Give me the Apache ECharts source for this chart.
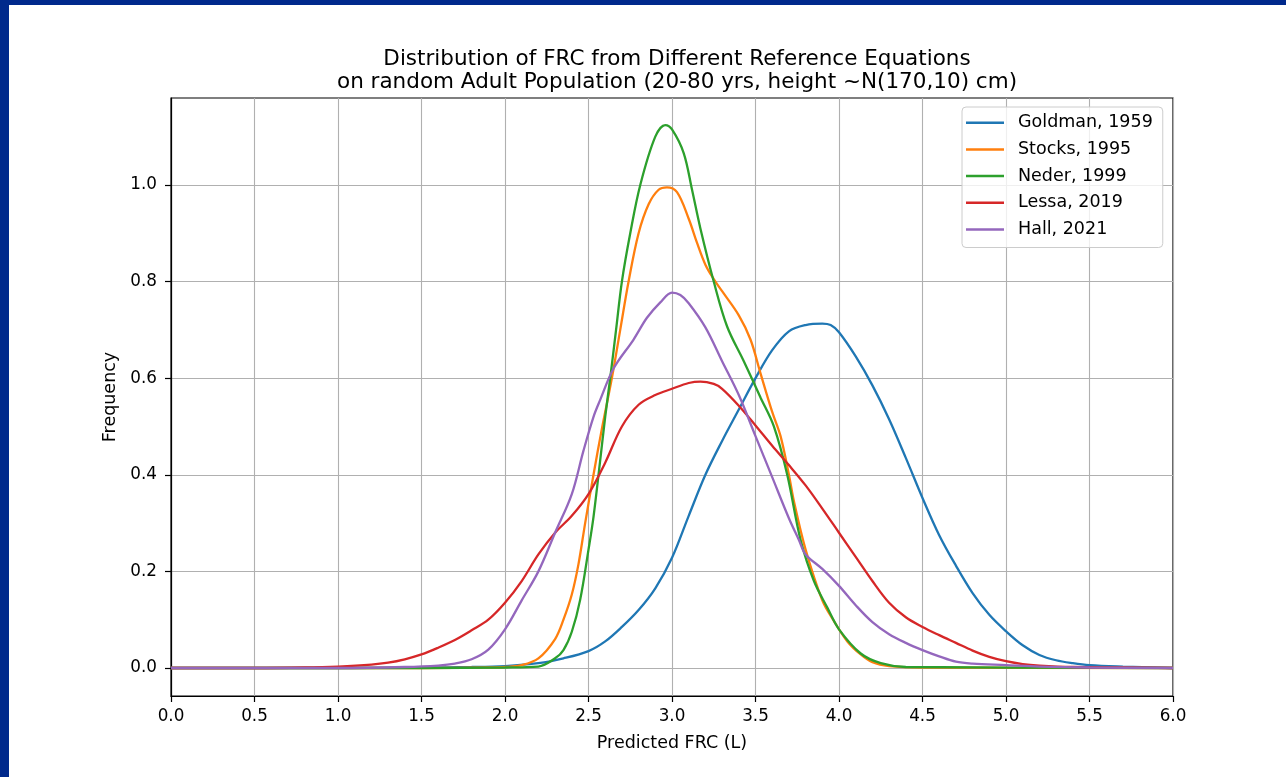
<!DOCTYPE html>
<html>
<head>
<meta charset="utf-8">
<script src="https://cdn.jsdelivr.net/npm/echarts@6/dist/echarts.min.js"></script>
<style>
html,body{margin:0;padding:0;background:#fff;}
#chart{width:1286px;height:777px;}
</style>
</head>
<body>
<div id="chart"></div>
<script>
const seriesNames = ['Goldman, 1959', 'Stocks, 1995', 'Neder, 1999', 'Lessa, 2019', 'Hall, 2021'];
const xTicks = [0,0.5,1,1.5,2,2.5,3,3.5,4,4.5,5,5.5,6];
const yTicks = [0,0.2,0.4,0.6,0.8,1.0];

const goldman = [[0,0],[1.0,0],[1.5,0.001],[1.8,0.002],[2.0,0.004],[2.2,0.01],[2.35,0.02],[2.5,0.035],[2.6,0.055],[2.7,0.085],[2.8,0.12],[2.9,0.165],[3.0,0.228],[3.1,0.315],[3.2,0.4],[3.3,0.47],[3.4,0.535],[3.5,0.6],[3.6,0.658],[3.7,0.697],[3.8,0.71],[3.9,0.713],[3.95,0.71],[4.0,0.695],[4.1,0.645],[4.2,0.585],[4.3,0.515],[4.4,0.435],[4.5,0.352],[4.6,0.275],[4.7,0.212],[4.8,0.155],[4.9,0.11],[5.0,0.076],[5.1,0.047],[5.2,0.027],[5.3,0.016],[5.4,0.01],[5.5,0.006],[5.7,0.003],[6.0,0.0]];
const stocks = [[0,0],[1.5,0],[1.9,0.001],[2.0,0.002],[2.1,0.006],[2.2,0.02],[2.3,0.06],[2.35,0.1],[2.4,0.152],[2.44,0.215],[2.48,0.3],[2.53,0.4],[2.58,0.495],[2.64,0.6],[2.69,0.7],[2.74,0.8],[2.8,0.9],[2.86,0.96],[2.92,0.99],[2.97,0.995],[3.03,0.985],[3.1,0.93],[3.15,0.88],[3.2,0.835],[3.25,0.805],[3.3,0.78],[3.4,0.73],[3.47,0.68],[3.53,0.61],[3.6,0.53],[3.65,0.48],[3.7,0.4],[3.73,0.345],[3.8,0.245],[3.9,0.14],[3.97,0.097],[4.05,0.055],[4.13,0.028],[4.2,0.012],[4.3,0.004],[4.5,0.001],[6,0]];
const neder = [[0,0],[1.5,0],[2.0,0.001],[2.2,0.003],[2.3,0.02],[2.35,0.037],[2.4,0.075],[2.45,0.141],[2.5,0.245],[2.53,0.313],[2.57,0.43],[2.6,0.52],[2.63,0.6],[2.665,0.7],[2.7,0.8],[2.75,0.9],[2.81,1.0],[2.9,1.1],[2.96,1.124],[3.0,1.115],[3.07,1.066],[3.12,0.99],[3.17,0.91],[3.25,0.8],[3.33,0.707],[3.43,0.635],[3.53,0.56],[3.61,0.5],[3.69,0.4],[3.77,0.265],[3.85,0.18],[3.93,0.125],[4.0,0.08],[4.13,0.03],[4.25,0.01],[4.4,0.002],[6,0]];
const lessa = [[0,0],[0.5,0],[0.8,0.001],[1.0,0.003],[1.2,0.007],[1.3,0.011],[1.4,0.018],[1.5,0.028],[1.6,0.042],[1.7,0.058],[1.8,0.078],[1.9,0.1],[2.0,0.135],[2.1,0.18],[2.2,0.235],[2.3,0.28],[2.4,0.315],[2.5,0.36],[2.6,0.425],[2.7,0.5],[2.8,0.545],[2.9,0.565],[3.0,0.578],[3.1,0.59],[3.17,0.593],[3.25,0.588],[3.3,0.578],[3.4,0.543],[3.5,0.502],[3.6,0.46],[3.7,0.42],[3.8,0.378],[3.9,0.33],[4.0,0.28],[4.1,0.23],[4.2,0.18],[4.3,0.135],[4.4,0.105],[4.5,0.085],[4.6,0.068],[4.7,0.052],[4.8,0.036],[4.9,0.023],[5.0,0.014],[5.1,0.008],[5.2,0.005],[5.4,0.002],[5.7,0.001],[6,0]];
const hall = [[0,0],[1.0,0],[1.4,0.002],[1.6,0.005],[1.7,0.009],[1.8,0.018],[1.9,0.038],[2.0,0.08],[2.1,0.14],[2.2,0.2],[2.3,0.28],[2.4,0.36],[2.47,0.45],[2.53,0.52],[2.57,0.555],[2.65,0.62],[2.77,0.68],[2.85,0.725],[2.93,0.757],[3.0,0.777],[3.05,0.772],[3.1,0.755],[3.2,0.705],[3.3,0.635],[3.4,0.565],[3.5,0.48],[3.6,0.395],[3.7,0.31],[3.76,0.265],[3.8,0.235],[3.9,0.205],[4.0,0.17],[4.1,0.13],[4.2,0.095],[4.3,0.07],[4.4,0.052],[4.5,0.037],[4.6,0.024],[4.7,0.013],[4.8,0.009],[5.0,0.006],[5.2,0.003],[5.5,0.001],[6,0]];

const colors = ['#1f77b4', '#ff7f0e', '#2ca02c', '#d62728', '#9467bd'];
const allData = [goldman, stocks, neder, lessa, hall];
const FONT = 'DejaVu Sans';

const chart = echarts.init(document.getElementById('chart'), null, {renderer: 'canvas'});
chart.setOption({
  animation: false,
  backgroundColor: '#ffffff',
  textStyle: {fontFamily: FONT},
  title: {
    text: 'Distribution of FRC from Different Reference Equations\non random Adult Population (20-80 yrs, height ~N(170,10) cm)',
    left: 672, top: 43, textAlign: 'center',
    textStyle: {fontFamily: FONT, fontSize: 21.5, fontWeight: 'normal', color: '#000', lineHeight: 23}
  },
  graphic: [
    {type: 'rect', left: 0, top: 0, shape: {width: 1286, height: 5}, style: {fill: '#00298c'}, z: 100},
    {type: 'rect', left: 0, top: 0, shape: {width: 9, height: 777}, style: {fill: '#00298c'}, z: 100}
  ],
  legend: {
    orient: 'vertical', left: 962, top: 107,
    data: seriesNames,
    icon: 'rect', itemWidth: 38, itemHeight: 2.5, itemGap: 6.7,
    padding: [5.7, 10, 8, 4],
    backgroundColor: 'rgba(255,255,255,0.8)', borderColor: '#cccccc', borderWidth: 1, borderRadius: 4,
    textStyle: {fontFamily: FONT, fontSize: 17.5, color: '#000', lineHeight: 20, padding: [0, 0, 0, 9]}
  },
  grid: {left: 171, right: 113, top: 98, bottom: 81, show: true, borderColor: '#000', borderWidth: 1.2, backgroundColor: 'transparent'},
  xAxis: {
    type: 'value', min: 0, max: 6, interval: 0.5,
    name: 'Predicted FRC (L)', nameLocation: 'middle', nameGap: 38,
    nameTextStyle: {fontFamily: FONT, fontSize: 17.5, color: '#000'},
    axisLine: {show: true, onZero: false, lineStyle: {color: '#000', width: 1.2}},
    axisTick: {show: true, inside: false, length: 6, customValues: xTicks, lineStyle: {color: '#000', width: 1.2}},
    axisLabel: {fontFamily: FONT, fontSize: 16.8, color: '#000', margin: 12, customValues: xTicks, formatter: v => v.toFixed(1)},
    splitLine: {show: true, lineStyle: {color: '#b0b0b0', width: 1.1}}
  },
  yAxis: {
    type: 'value', min: -0.058, max: 1.18,
    name: 'Frequency', nameLocation: 'middle', nameGap: 47,
    nameTextStyle: {fontFamily: FONT, fontSize: 17.5, color: '#000'},
    axisLine: {show: true, onZero: false, lineStyle: {color: '#000', width: 1.2}},
    axisTick: {show: true, inside: false, length: 6, customValues: yTicks, lineStyle: {color: '#000', width: 1.2}},
    axisLabel: {fontFamily: FONT, fontSize: 16.8, color: '#000', margin: 14, customValues: yTicks, formatter: v => v.toFixed(1)},
    splitLine: {show: true, lineStyle: {color: '#b0b0b0', width: 1.1}}
  },
  series: seriesNames.map((n, i) => ({
    name: n, type: 'line', data: allData[i], smooth: 0.35, showSymbol: false, symbol: 'none',
    lineStyle: {color: colors[i], width: 2.3}, itemStyle: {color: colors[i]}, z: 2 + i
  }))
});
</script>
</body>
</html>
